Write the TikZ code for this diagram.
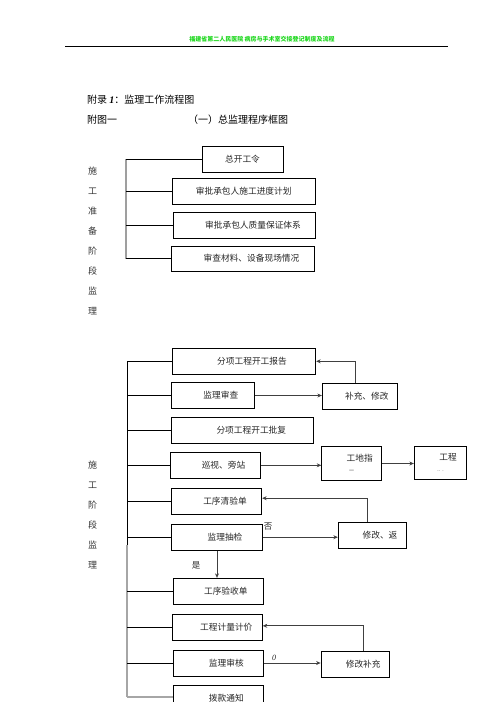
\documentclass[tikz,border=0pt]{standalone}
\usepackage{fontspec}
\setmainfont{Noto Sans CJK SC}
\newfontfamily\latinfont{Liberation Serif}
\usepackage{xcolor}
\usetikzlibrary{arrows.meta, positioning}
\definecolor{hdrgreen}{RGB}{30,215,30}

\begin{document}
\begin{tikzpicture}[
  x=1pt, y=-1pt,
  box/.style={rectangle, draw=black, line width=0.9pt, inner sep=0pt, font=\fontsize{8.7}{10}\selectfont, text=black!85},
  off/.style={execute at begin node={\hspace*{#1}}},
  off/.default=16pt,
  side/.style={anchor=north west, align=left, inner sep=0pt, font=\fontsize{9}{20}\selectfont, text=black!80},
  link/.style={line width=0.9pt},
  arr/.style={-{Stealth[length=4.5pt, width=4pt]}, line width=0.9pt, black!75},
  lbl/.style={inner sep=0pt, font=\fontsize{8.5}{10}\selectfont, text=black!85}
]
  \useasboundingbox (0,0) rectangle (496,702);
  \clip (0,0) rectangle (496,702);

  % page header
  \node[inner sep=0pt, font=\bfseries\fontsize{6}{7}\selectfont, text=hdrgreen] (hdr) at (262,39) {福建省第二人民医院\ 病房与手术室交接登记制度及流程};
  \draw[line width=0.7pt] (65,46.7) -- (448,46.7);

  % titles
  \node[anchor=west, inner sep=0pt, font=\fontsize{10}{12}\selectfont] (ttl) at (87,100) {附录 {\latinfont\bfseries\itshape 1}：监理工作流程图};
  \node[anchor=west, inner sep=0pt, font=\fontsize{10}{12}\selectfont] (fig) at (87,120) {附图一};
  \node[anchor=west, inner sep=0pt, font=\fontsize{10}{12}\selectfont] (sub) at (188,120) {（一）总监理程序框图};

  % preparation stage
  \node[side] (prepA) at (88,167) {施\\工\\准\\备\\阶\\段\\监\\理};
  \node[box, minimum width=81pt, minimum height=26pt] (zk) at (242.5,159) {总开工令};
  \node[box, minimum width=143.5pt, minimum height=26pt] (jd) at (243.7,191) {审批承包人施工进度计划};
  \node[box, off=18pt, minimum width=142pt, minimum height=26pt] (zl) at (244,225) {审批承包人质量保证体系};
  \node[box, off=18pt, minimum width=143pt, minimum height=25pt] (cl) at (242.5,258.5) {审查材料、设备现场情况};

  \coordinate (topA) at (126,159);
  \coordinate (botA) at (126,258.5);
  \draw[gray!75, line width=1.4pt] (topA) -- (botA);
  \draw[link] (zk.west -| topA) -- (zk.west);
  \draw[link] (jd.west -| topA) -- (jd.west);
  \draw[link] (zl.west -| topA) -- (zl.west);
  \draw[link] (cl.west -| topA) -- (cl.west);

  % construction stage
  \node[side] (prepB) at (88,461) {施\\工\\阶\\段\\监\\理};
  \node[box, off, minimum width=143.4pt, minimum height=26pt] (bg) at (244,361.3) {分项工程开工报告};
  \node[box, off, minimum width=83pt, minimum height=25.6pt] (sc) at (212.8,395.5) {监理审查};
  \node[box, off=14pt, minimum width=75pt, minimum height=25.6pt] (bc) at (359.8,396.5) {补充、修改};
  \node[box, off=18pt, minimum width=142pt, minimum height=25.7pt] (pf) at (242.3,430.2) {分项工程开工批复};
  \node[box, off, minimum width=90.4pt, minimum height=26pt] (xs) at (215.5,465.3) {巡视、旁站};
  \node[box, align=center, minimum width=60pt, minimum height=33.6pt] (gd) at (351.7,463.5) {\hspace*{16pt}工地指\\[1pt]{\fontsize{5}{6}\selectfont 一}};
  \node[box, align=center, minimum width=52.4pt, minimum height=33.3pt] (gc) at (440.5,462.7) {\hspace*{15pt}工程\\[1pt]{\fontsize{5}{6}\selectfont ..\ \ .}};
  \node[box, off=17pt, minimum width=90.4pt, minimum height=25.7pt] (bd) at (216.5,501.2) {工序清验单};
  \node[box, off, minimum width=91.4pt, minimum height=25.7pt] (cj) at (217,537.2) {监理抽检};
  \node[box, off=15pt, minimum width=68.4pt, minimum height=26pt] (xf) at (372.5,535.3) {修改、返};
  \node[box, off=15pt, minimum width=90pt, minimum height=26pt] (ys) at (218.3,591.3) {工序验收单};
  \node[box, off=18pt, minimum width=90pt, minimum height=26pt] (jj) at (217.3,627.3) {工程计量计价};
  \node[box, off, minimum width=90pt, minimum height=26pt] (sh) at (218.3,663) {监理审核};
  \node[box, off, minimum width=68.3pt, minimum height=26.3pt] (xb) at (355.2,664.2) {修改补充};
  \node[box, off, minimum width=90pt, minimum height=26pt] (bk) at (218.3,698.3) {拨款通知};

  \coordinate (topB) at (127,361.3);
  \coordinate (midB) at (127,545);
  \coordinate (botB) at (127,697);
  \draw[link] (topB) -- (midB);
  \draw[gray!70, line width=1.3pt] (midB) -- (botB);
  \draw[link] (bg.west -| topB) -- (bg.west);
  \draw[link] (sc.west -| topB) -- (sc.west);
  \draw[link] (pf.west -| topB) -- (pf.west);
  \draw[link] (xs.west -| topB) -- (xs.west);
  \draw[link] (bd.west -| topB) -- (bd.west);
  \draw[link] (cj.west -| topB) -- (cj.west);
  \draw[link] (ys.west -| topB) -- (ys.west);
  \draw[link] (jj.west -| topB) -- (jj.west);
  \draw[link] (sh.west -| topB) -- (sh.west);
  \draw[gray!70, line width=1.3pt] (botB) -- (botB -| bk.west);

  % flow arrows
  \draw[arr] (sc.east) -- (sc.east -| bc.west);
  \draw[arr] ([xshift=-4.8pt]bc.north) |- (bg.east);
  \draw[arr] (xs.east) -- (xs.east -| gd.west);
  \draw[arr] (gd.east) -- (gd.east -| gc.west);
  \draw[arr] ([xshift=-4.8pt]xf.north) |- ([yshift=3pt]bd.east);
  \draw[arr] (cj.east) -- (cj.east -| xf.west);
  \node[lbl] (no) at (268,527) {否};
  \draw[arr] (cj.south) -- (cj.south |- ys.north);
  \node[lbl] (yes) at (196,565) {是};
  \draw[arr] (sh.east) -- (sh.east -| xb.west);
  \node[lbl, font=\latinfont\itshape\fontsize{8}{9}\selectfont] (zero) at (274,658) {0};
  \draw[arr] ([xshift=8pt]xb.north) |- ([yshift=1.5pt]jj.east);
\end{tikzpicture}
\end{document}
